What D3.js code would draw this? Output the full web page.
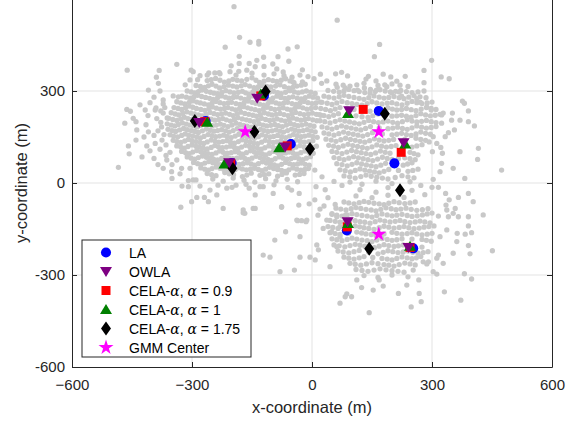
<!DOCTYPE html>
<html>
<head>
<meta charset="utf-8">
<script src="https://cdn.jsdelivr.net/npm/d3@7"></script>
<style>
  html, body { margin: 0; padding: 0; background: #fff; }
  svg { display: block; font-family: "Liberation Sans", Arial, sans-serif; }
</style>
</head>
<body>
<svg id="chart" width="566" height="425"></svg>
<script>
'use strict';

// ---- Data -------------------------------------------------------------------

const xTicks = [-600, -300, 0, 300, 600];
const yTicks = [-600, -300, 0, 300, 600];

// Grey sample cloud, flat [x, y, x, y, ...] in metres.
const cloudLeft = [
  -262,334, -241,341, -219,329, -198,338, -176,333, -150,343, -131,328, -109,337, -88,331, -66,340, -45,327,
  -290,318, -268,312, -250,322, -231,310, -209,319, -188,313, -167,321, -145,311, -124,318, -103,313, -80,320, -58,309, -38,316, -17,322,
  -312,300, -293,294, -275,303, -254,296, -236,291, -215,301, -195,294, -174,299, -158,290, -138,302, -117,295, -96,299, -77,291, -55,301, -34,294, -14,300, 8,292,
  -325,283, -304,277, -286,286, -266,279, -247,273, -226,284, -207,277, -188,281, -168,273, -148,284, -128,278, -108,272, -88,283, -68,276, -48,281, -27,274, -7,283, 14,277,
  -338,265, -318,258, -297,268, -279,261, -259,255, -240,266, -220,259, -201,263, -180,256, -160,267, -141,260, -121,254, -100,265, -81,258, -61,263, -40,256, -20,266, 0,259, 21,264,
  -345,246, -326,240, -307,251, -289,243, -268,237, -249,248, -229,241, -210,246, -191,238, -171,249, -152,242, -132,236, -113,247, -93,240, -72,245, -53,238, -33,249, -13,241, 9,246,
  -352,229, -333,222, -313,232, -294,225, -275,219, -255,230, -236,223, -216,228, -197,220, -178,231, -158,224, -139,218, -119,229, -100,222, -80,227, -60,220, -41,230, -20,223, 1,228, 22,221,
  -358,211, -338,204, -319,214, -300,207, -281,201, -262,212, -243,205, -223,210, -204,202, -185,213, -164,206, -145,200, -126,211, -106,204, -87,209, -67,202, -48,212, -28,205, -9,210, 12,203,
  -362,193, -343,186, -324,196, -305,189, -287,183, -268,194, -249,187, -229,192, -210,184, -190,195, -171,188, -152,182, -132,193, -113,186, -93,191, -74,184, -54,194, -35,187, -15,192, 5,185,
  -360,175, -341,168, -321,178, -302,171, -284,165, -264,176, -245,169, -226,174, -207,166, -187,177, -168,170, -149,164, -129,175, -110,168, -90,173, -71,166, -51,176, -32,169, -12,174, 8,167,
  -355,157, -336,150, -317,160, -298,153, -279,147, -260,158, -241,151, -221,156, -202,148, -183,159, -163,152, -144,146, -125,157, -105,150, -86,155, -66,148, -47,158, -27,151, -8,156, 13,149,
  -347,139, -328,132, -309,142, -290,135, -271,129, -252,140, -233,133, -213,138, -194,130, -175,141, -155,134, -136,128, -117,139, -97,132, -78,137, -58,130, -39,140, -19,133, 2,138,
  -338,121, -319,114, -300,124, -281,117, -262,111, -243,122, -224,115, -204,120, -185,112, -166,123, -146,116, -127,110, -108,121, -88,114, -69,119, -49,112, -30,122, -10,115, 11,120,
  -326,103, -307,96, -288,106, -269,99, -250,93, -231,104, -212,97, -192,102, -173,94, -154,105, -134,98, -115,92, -96,103, -76,96, -57,101, -37,94, -18,104, 3,97,
  -312,85, -293,78, -274,88, -255,81, -236,75, -217,86, -198,79, -178,84, -159,76, -140,87, -120,80, -101,74, -82,85, -62,78, -43,83, -23,76, -4,86,
  -296,67, -277,60, -258,70, -239,63, -220,57, -201,68, -182,61, -162,66, -143,58, -124,69, -104,62, -85,56, -66,67, -46,60, -27,65, -7,58,
  -278,49, -259,42, -240,52, -221,45, -202,39, -183,50, -164,43, -144,48, -125,40, -106,51, -86,44, -67,38, -48,49, -28,42, -9,47,
  -262,31, -240,24, -218,34, -196,27, -174,21, -152,32, -130,25, -108,30, -86,22, -64,33, -42,26, -20,31,
  -248,13, -222,6, -197,16, -170,9, -143,3, -116,14, -90,7, -62,12, -36,4,
  -235,-7, -200,-14, -165,-4, -130,-12, -95,-6, -60,-15
];

// In-between points of the left core, where the picture is almost solid grey.
const cloudLeftFill = [
  -252,337, -230,335, -208,333, -187,335, -163,338, -140,335, -120,332, -98,334, -77,335, -55,333,
  -279,315, -259,317, -240,316, -220,314, -198,316, -177,317, -156,316, -134,314, -113,315, -91,316, -69,314, -48,312, -27,319,
  -302,297, -284,298, -264,299, -245,293, -225,296, -205,297, -184,296, -166,294, -148,296, -127,298, -106,297, -86,295, -66,296, -44,297, -24,297, -3,296,
  -314,280, -295,281, -276,282, -256,276, -236,278, -216,280, -197,279, -178,277, -158,278, -138,281, -118,275, -98,277, -78,279, -58,278, -37,277, -17,278, 3,280,
  -328,261, -307,263, -288,264, -269,258, -250,260, -230,262, -210,261, -190,259, -170,261, -150,263, -131,257, -110,259, -90,261, -71,260, -50,259, -30,261, -10,262, 10,261,
  -335,243, -316,245, -298,247, -278,240, -258,242, -239,244, -219,243, -200,242, -181,243, -161,245, -142,239, -122,241, -103,243, -82,242, -62,241, -43,243, -23,245, -2,243,
  -342,225, -323,227, -303,228, -284,222, -265,224, -245,226, -226,225, -206,224, -187,225, -168,227, -148,221, -129,223, -109,225, -90,224, -70,223, -50,225, -30,226, -9,225, 11,224,
  -348,207, -328,209, -310,210, -290,204, -271,206, -252,208, -233,207, -214,206, -194,207, -174,209, -155,203, -135,205, -116,207, -96,206, -77,205, -57,207, -38,208, -18,207, 2,206,
  -352,189, -334,191, -314,192, -296,186, -278,188, -258,190, -239,189, -220,188, -200,189, -180,191, -162,185, -142,187, -122,189, -103,188, -84,187, -64,189, -44,190, -25,189, -5,188,
  -350,171, -331,173, -312,174, -293,168, -274,170, -254,172, -236,171, -216,170, -197,171, -178,173, -158,167, -139,169, -120,171, -100,170, -80,169, -61,171, -42,172, -22,171, -2,170,
  -346,153, -326,155, -308,156, -288,150, -270,152, -250,154, -231,153, -212,152, -192,153, -173,155, -154,149, -134,151, -115,153, -96,152, -76,151, -56,153, -37,154, -18,153, 2,152,
  -338,135, -318,137, -300,138, -280,132, -262,134, -242,136, -223,135, -204,134, -184,135, -165,137, -146,131, -126,133, -107,135, -88,134, -68,133, -48,135, -29,136, -8,135,
  -328,117, -310,119, -290,120, -272,114, -252,116, -234,118, -214,117, -194,116, -176,117, -156,119, -136,113, -118,115, -98,117, -78,116, -59,115, -40,117, -20,118, 0,117,
  -316,99, -298,101, -278,102, -260,96, -240,98, -222,100, -202,99, -182,98, -164,99, -144,101, -124,95, -106,97, -86,99, -66,98, -47,97, -28,99, -8,100,
  -302,81, -284,83, -264,84, -246,78, -226,80, -208,82, -188,81, -168,80, -150,81, -130,83, -110,77, -92,79, -72,81, -52,80, -33,79, -14,81,
  -286,63, -268,65, -248,66, -230,60, -210,62, -192,64, -172,63, -152,62, -134,63, -114,65, -94,59, -76,61, -56,63, -36,62, -17,61,
  -268,45, -250,47, -230,48, -212,42, -192,44, -174,46, -154,45, -134,44, -116,45, -96,47, -76,41, -58,43, -38,45, -18,44,
  -251,27, -207,30, -163,26, -119,27, -75,28, -31,28,
  -280,350, -262,352, -230,356, -190,352, -150,358, -120,352, -95,356, -70,350, -30,352, -10,347, 5,340
];

const cloudUpper = [
  60,322, 95,316, 130,325, 165,318, 200,323, 240,315,
  40,302, 68,296, 92,305, 118,298, 145,293, 170,304, 196,297, 222,302, 250,295, 280,300,
  30,283, 55,277, 80,286, 105,279, 130,273, 155,284, 180,277, 205,282, 230,275, 255,285, 285,278,
  25,263, 50,256, 75,266, 100,259, 125,254, 150,265, 175,258, 200,262, 225,255, 250,266, 275,259, 300,264,
  22,243, 46,236, 70,246, 105,240, 145,234, 190,245, 212,238, 236,243, 260,236, 286,246, 310,240,
  18,223, 42,216, 66,226, 110,219, 140,214, 165,225, 200,218, 224,221, 248,215, 272,226, 296,219, 320,224,
  20,203, 45,196, 70,206, 94,199, 118,193, 142,204, 166,197, 190,202, 214,195, 238,206, 262,199, 286,204, 310,197,
  25,183, 50,176, 74,186, 98,179, 122,173, 146,184, 190,177, 214,182, 238,175, 262,186, 286,179, 310,184,
  30,163, 55,156, 79,166, 103,159, 127,153, 151,164, 200,157, 224,162, 248,155, 272,166, 296,159,
  35,143, 60,136, 84,146, 108,139, 132,133, 156,144, 180,137, 204,142, 260,146, 284,139,
  42,123, 66,116, 90,126, 114,119, 138,113, 162,124, 186,117, 210,122, 250,117, 275,125,
  50,103, 75,96, 99,106, 123,99, 147,93, 171,104, 195,97, 245,100, 265,92,
  55,83, 80,76, 104,86, 128,79, 152,73, 176,84, 200,77, 232,82, 258,76,
  62,63, 88,56, 112,66, 136,59, 160,53, 184,64, 228,58, 250,66,
  70,43, 96,36, 120,46, 144,39, 168,33, 192,44, 240,38, 265,45,
  80,23, 108,16, 135,26, 162,19, 190,13, 225,24, 255,17,
  95,3, 125,-4, 160,6, 200,-2, 245,4
];

const cloudUpperFill = [
  78,319, 112,320, 182,320, 220,319,
  54,299, 80,300, 105,301, 132,295, 158,298, 183,300, 209,299, 236,298, 265,297,
  42,280, 68,281, 92,282, 118,276, 142,278, 168,280, 192,279, 218,278, 242,280, 270,281,
  38,260, 62,261, 88,262, 112,256, 138,259, 162,261, 188,260, 212,258, 238,260, 262,262, 288,261,
  34,240, 58,241, 88,243, 125,237, 168,239, 201,241, 224,240, 248,239, 273,241, 298,243,
  30,220, 54,221, 88,222, 125,216, 152,219, 182,221, 212,219, 236,218, 260,220, 284,222, 308,221,
  32,200, 58,201, 82,202, 106,196, 130,198, 154,200, 178,199, 202,198, 226,200, 250,202, 274,201, 298,200,
  38,180, 62,181, 86,182, 110,176, 134,178, 168,180, 202,179, 226,178, 250,180, 274,182, 298,181,
  42,160, 67,161, 91,162, 115,156, 139,158, 176,160, 212,159, 236,158, 260,160, 284,162,
  48,140, 72,141, 96,142, 120,136, 144,138, 168,140, 192,139, 232,142, 272,142,
  54,120, 78,121, 102,122, 126,116, 150,118, 174,120, 198,119, 230,119, 262,121,
  62,100, 87,101, 111,102, 135,96, 159,98, 183,100, 220,98, 255,96,
  68,80, 92,81, 116,82, 140,76, 164,78, 188,80, 216,79, 245,79,
  75,60, 100,61, 124,62, 148,56, 172,58, 206,61, 239,62,
  83,40, 108,41, 132,42, 156,36, 180,38, 216,41, 252,41,
  94,20, 122,21, 148,22, 176,16, 208,18, 240,20
];

const cloudLower = [
  120,-22, 160,-30, 190,-15, 222,-28, 250,-24, 282,-38, 272,-8,
  110,-42, 150,-48, 190,-40, 230,-47,
  80,-62, 105,-68, 130,-60, 155,-66, 180,-71, 205,-61, 232,-67, 258,-62,
  60,-82, 85,-88, 110,-80, 135,-86, 160,-91, 185,-81, 210,-87, 235,-82, 262,-89, 290,-84,
  50,-102, 75,-108, 100,-100, 125,-106, 150,-111, 175,-101, 200,-107, 225,-102, 250,-109, 276,-104, 300,-98,
  45,-122, 70,-128, 95,-120, 120,-126, 145,-131, 170,-121, 195,-127, 220,-122, 245,-129, 270,-124, 295,-130,
  40,-142, 65,-148, 108,-140, 130,-146, 155,-151, 180,-141, 205,-147, 230,-142, 255,-149, 280,-144, 305,-140,
  45,-162, 70,-168, 112,-160, 135,-166, 160,-171, 200,-161, 225,-167, 250,-162, 275,-169, 300,-164,
  50,-182, 75,-188, 100,-180, 125,-186, 150,-191, 175,-181, 200,-187, 225,-182, 275,-184, 298,-190,
  55,-202, 82,-208, 108,-200, 132,-206, 156,-211, 180,-201, 205,-207, 228,-202, 275,-209,
  65,-222, 92,-228, 118,-220, 165,-231, 190,-221, 215,-227, 240,-222, 265,-229, 290,-224,
  80,-242, 105,-248, 130,-240, 175,-246, 200,-251, 225,-241, 250,-247, 272,-240,
  95,-262, 122,-268, 150,-260, 180,-266, 205,-271, 232,-261, 258,-267,
  110,-282, 140,-288, 170,-280, 200,-286, 230,-291,
  130,-302, 165,-308, 200,-300, 240,-306
];

const cloudLowerFill = [
  92,-65, 118,-64, 142,-63, 168,-68, 192,-66, 218,-64, 245,-65,
  72,-85, 98,-84, 122,-83, 148,-88, 172,-86, 198,-84, 222,-85, 248,-86, 276,-87,
  62,-105, 88,-104, 112,-103, 138,-108, 162,-106, 188,-104, 212,-105, 238,-106, 263,-107, 288,-101,
  58,-125, 82,-124, 108,-123, 132,-128, 158,-126, 182,-124, 208,-125, 232,-126, 258,-127, 282,-127,
  52,-145, 86,-144, 119,-143, 142,-148, 168,-146, 192,-144, 218,-145, 242,-146, 268,-147, 292,-142,
  58,-165, 91,-164, 124,-163, 148,-168, 180,-166, 212,-164, 238,-165, 262,-166, 288,-167,
  62,-185, 88,-184, 112,-183, 138,-188, 162,-186, 188,-184, 212,-185, 250,-183, 286,-187,
  68,-205, 95,-204, 120,-203, 144,-208, 168,-206, 192,-204, 216,-205, 252,-206,
  78,-225, 105,-224, 142,-226, 178,-226, 202,-224, 228,-225, 252,-226, 278,-227,
  92,-245, 118,-244, 152,-243, 188,-248, 212,-246, 238,-244, 261,-244,
  108,-265, 136,-264, 165,-263, 192,-268, 218,-266, 245,-264,
  125,-285, 155,-284, 185,-283, 215,-288
];

const cloudSparse = [
  -195,575, -181,475, -155,459, -133,462, -133,453, -217,443, -338,387, -462,368, -382,367, -389,345,
  -384,325, -409,303, -302,368, -297,363, -258,359, -243,359, -232,360, -305,336, -317,320, -286,337,
  -182,413, -182,390, -157,390, -138,400, -121,410, -85,412, -60,437, -37,444, -58,397, -24,369,
  -202,382, -205,363, -183,364, -163,368, -142,379, -120,380, -98,388, -88,372, -72,362, -50,345,
  -48,330, -24,330, -372,271, -347,284, -334,281, -392,238, -417,238, -463,240, -454,234,
  -380,300, -395,280, -372,258, -405,262, -390,245, -430,255, -378,235, -410,220, -388,210, -440,200,
  -415,190, -385,170, -420,150, -395,155, -375,140, -440,140, -405,105, -380,110, -365,90, -395,80,
  -425,85, -350,60, -385,60, -330,30, -350,15, -325,-10, -280,-10, -290,10,
  -372,228, -378,198, -370,158, -365,124, -376,183, -368,246, -355,100, -362,212,
  63,531, 169,452, 156,412, 299,400, 280,367, 280,327, 323,346, 343,340, 376,267, 381,260, 391,235,
  21,355, 59,356, 74,361, 89,349, 135,339, 141,348, 160,333, 178,355, 197,346, 212,332, 233,348,
  24,325, 37,333, 63,312, 83,310, 114,303, 131,310, 146,305, 161,303, 187,314, 199,294, 218,297,
  224,283, 262,275, 271,263, 287,247, 298,238, 351,228, 328,228,
  324,222, 324,195, 349,205, 370,205, 391,200, 406,186, 356,173, 341,164, 333,151, 303,151, 293,134,
  312,129, 322,116, 301,102, 326,97, 370,102, 416,113, 414,77, 474,42, 382,15, 353,48, 324,64, 320,37,
  303,12, 316,-14, 300,-14, 334,-34, 343,-55, 366,-47, 391,-34, 403,-61, 337,-88, 316,-108, 341,-110,
  366,-110, 391,-110,
  353,-99, 358,-83, 335,-72, 428,-104, 391,-140, 383,-167, 399,-162, 363,-164, 337,-153, 320,-175,
  362,-191, 391,-204, 451,-221, 395,-231, 353,-229, 316,-235, 328,-262, 312,-245, 291,-257, 287,-264,
  303,-289, 312,-297, 381,-296, 399,-313, 331,-355, 372,-382, 267,-316, 268,-360, 273,-387, 248,-404,
  143,-423, 216,-360, 237,-333, 178,-336, 153,-349, 124,-341, 112,-316, 87,-362, 99,-371, 168,-316,
  253,-284, 278,-257,
  -222,-83, -172,-97, -147,-83, -76,-79, -33,-72, -7,-68, 30,-75, -36,-123, -15,-126, -66,-159,
  -93,-186, -30,-175, -122,-235, -105,-242, -80,-289, -44,-284, -30,-242, -5,-242, 8,-251, 16,-218,
  12,-202, 28,-148, 49,-159, 37,-121, 62,-110, 84,-104, 70,-142, 70,-175, 62,-208, 45,-273, 83,-371, 70,-392,
  -468,195, -447,211, -438,173, -409,167, -459,121, -457,95, -413,121, -392,129, -484,51, -372,48,
  -351,37, -363,75, -338,75, -326,48, -305,48, -309,8, -297,10, -309,-12, -301,-61, -288,-47,
  -328,-79, -255,-23, -269,-47, -259,-61, -238,-39, -213,-17, -190,-7, -172,-88, -168,-99, -142,-83,
  -142,-39, -157,-17, -122,-12, -97,-34, -76,-77, -51,-23, -32,-34, -38,-121, -26,-123, -13,-121,
  7,42, 25,20, 10,-12, 33,-22, 55,5, 75,-8, 7,-55, 40,-48, 20,-85, 58,-70, 50,-100, 15,-105
];

// Algorithm outputs (metres).
const laPts      = [[-120, 285], [-266, 202], [-201, 65], [-53, 127], [167, 235], [206, 64], [87, -155], [253, -213]];
const owlaPts    = [[-137, 276], [-282, 197], [-207, 66], [-67, 117], [93, 236], [229, 131], [89, -126], [241, -210]];
const cela09Pts  = [[-128, 284], [-268, 200], [-203, 63], [-62, 121], [128, 240], [223, 100], [88, -143], [245, -210]];
const cela1Pts   = [[-128, 290], [-262, 198], [-219, 62], [-82, 115], [90, 227], [233, 127], [90, -132], [245, -206]];
const cela175Pts = [[-116, 298], [-293, 202], [-144, 167], [-199, 48], [-5, 111], [182, 226], [220, -24], [143, -214]];
const gmmPts     = [[-167, 167], [167, 167], [167, -167]];

// ---- Setup ------------------------------------------------------------------

const svg = d3.select('#chart');
const INK = '#262626';
const GRID = '#e3e3e3';

const x = d3.scaleLinear().domain([-600, 600]).range([72, 552]);
const y = d3.scaleLinear().domain([-600, 600]).range([367, -1]);

// Marker shapes, centred on 0,0.
const SHAPES = {
  circle:   d3.symbol(d3.symbolCircle, 80)(),
  tridown:  'M-6,-4.5L6,-4.5L0,5.5Z',
  square:   'M-4.5,-4.5H4.5V4.5H-4.5Z',
  triup:    'M0,-5.5L6,4.5L-6,4.5Z',
  diamond:  'M0,-7L5,0L0,7L-5,0Z',
  star:     d3.symbol(d3.symbolStar, 70)(),
};

const SERIES = [
  { name: 'LA',    pts: laPts,      shape: 'circle',  color: '#0000ff' },
  { name: 'OWLA',  pts: owlaPts,    shape: 'tridown', color: '#7e0082' },
  { name: '0.9',   pts: cela09Pts,  shape: 'square',  color: '#ff0000' },
  { name: '1',     pts: cela1Pts,   shape: 'triup',   color: '#008000' },
  { name: '1.75',  pts: cela175Pts, shape: 'diamond', color: '#000000' },
  { name: 'GMM',   pts: gmmPts,     shape: 'star',    color: '#ff00ff' },
];

// ---- Grid -------------------------------------------------------------------

const grid = svg.append('g').attr('stroke', GRID).attr('stroke-width', 1);
grid.selectAll('.gx').data(xTicks.slice(1, -1)).join('line')
  .attr('x1', d => x(d)).attr('x2', d => x(d)).attr('y1', y(600)).attr('y2', y(-600));
grid.selectAll('.gy').data(yTicks.slice(1, -1)).join('line')
  .attr('y1', d => y(d)).attr('y2', d => y(d)).attr('x1', x(-600)).attr('x2', x(600));

// ---- Cloud ------------------------------------------------------------------

function pairs(flat) {
  const out = [];
  for (let i = 0; i < flat.length; i += 2) out.push([flat[i], flat[i + 1]]);
  return out;
}
const cloud = [cloudLeft, cloudLeftFill, cloudUpper, cloudUpperFill, cloudLower, cloudLowerFill, cloudSparse]
  .flatMap(pairs);

svg.append('g').attr('fill', '#c8c8c8')
  .selectAll('circle').data(cloud).join('circle')
  .attr('cx', d => x(d[0])).attr('cy', d => y(d[1])).attr('r', 2.65);

// ---- Markers ----------------------------------------------------------------

// Draw order: LA, CELA variants, OWLA, GMM (OWLA sits on top in the picture).
const drawOrder = [0, 2, 3, 4, 1, 5];
drawOrder.forEach(i => {
  const s = SERIES[i];
  svg.append('g').selectAll('path').data(s.pts).join('path')
    .attr('d', SHAPES[s.shape])
    .attr('fill', s.color)
    .attr('transform', d => `translate(${x(d[0])},${y(d[1])})`);
});

// ---- Axes -------------------------------------------------------------------

function styleAxis(g) {
  g.selectAll('path, line').attr('stroke', INK);
  g.selectAll('text').attr('fill', INK).attr('font-size', 15);
}

svg.append('g').attr('transform', `translate(0,${y(-600)})`)
  .call(d3.axisBottom(x).tickValues(xTicks).tickSizeInner(-5).tickSizeOuter(0).tickPadding(12))
  .call(styleAxis);
// The 600 label sits above the top edge of the picture, so it is left out.
svg.append('g').attr('transform', `translate(${x(-600)},0)`)
  .call(d3.axisLeft(y).tickValues(yTicks).tickSizeInner(-5).tickSizeOuter(0).tickPadding(7)
    .tickFormat(d => (d === 600 ? '' : d)))
  .call(styleAxis);
svg.append('g').attr('transform', `translate(0,${y(600)})`)
  .call(d3.axisTop(x).tickValues(xTicks).tickSizeInner(-5).tickSizeOuter(0).tickFormat(''))
  .call(styleAxis);
svg.append('g').attr('transform', `translate(${x(600)},0)`)
  .call(d3.axisRight(y).tickValues(yTicks).tickSizeInner(-5).tickSizeOuter(0).tickFormat(''))
  .call(styleAxis);
svg.selectAll('.domain').attr('stroke-width', 1);

svg.append('text')
  .attr('x', (x(-600) + x(600)) / 2).attr('y', 413)
  .attr('text-anchor', 'middle').attr('font-size', 16.5).attr('fill', INK)
  .text('x-coordinate (m)');
svg.append('text')
  .attr('transform', `translate(27,${(y(-600) + y(600)) / 2}) rotate(-90)`)
  .attr('text-anchor', 'middle').attr('font-size', 16.5).attr('fill', INK)
  .text('y-coordinate (m)');

// ---- Legend -----------------------------------------------------------------

const legend = svg.append('g').attr('transform', 'translate(82,240)');
legend.append('rect')
  .attr('width', 169).attr('height', 117)
  .attr('fill', '#fff').attr('stroke', INK).attr('stroke-width', 1);

SERIES.forEach((s, i) => {
  const row = legend.append('g').attr('transform', `translate(0,${12.5 + i * 19})`);
  row.append('path').attr('d', SHAPES[s.shape]).attr('fill', s.color)
    .attr('transform', 'translate(24,0)');
  const t = row.append('text').attr('x', 47).attr('dy', '0.36em')
    .attr('font-size', 14).attr('fill', '#000');
  if (s.name === 'LA' || s.name === 'OWLA') {
    t.text(s.name);
  } else if (s.name === 'GMM') {
    t.text('GMM Center');
  } else {
    t.append('tspan').text('CELA-');
    t.append('tspan').attr('font-family', '"DejaVu Serif", serif').attr('font-style', 'italic').text('α');
    t.append('tspan').text(', ');
    t.append('tspan').attr('font-family', '"DejaVu Serif", serif').attr('font-style', 'italic').text('α');
    t.append('tspan').text(` = ${s.name}`);
  }
});
</script>
</body>
</html>
